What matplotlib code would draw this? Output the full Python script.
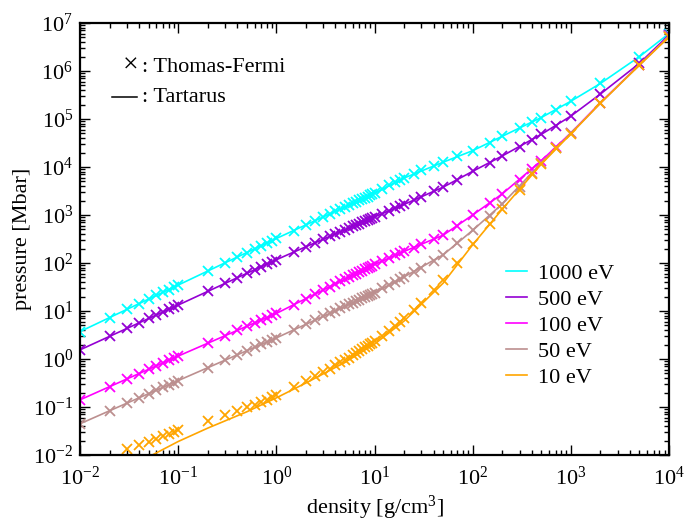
import matplotlib
matplotlib.use('Agg')
import matplotlib.pyplot as plt
from matplotlib.lines import Line2D
from matplotlib.ticker import LogLocator, NullFormatter

plt.rcParams['font.family'] = ['Liberation Serif', 'DejaVu Serif']
plt.rcParams['mathtext.fontset'] = 'custom'
plt.rcParams['mathtext.rm'] = 'Liberation Serif'
plt.rcParams['mathtext.it'] = 'Liberation Serif:italic'

# Thomas-Fermi densities [g/cm^3]
rho_tf = [0.01, 0.02, 0.03, 0.04, 0.05, 0.06, 0.07, 0.08, 0.09, 0.1,
          0.2, 0.3, 0.4, 0.5, 0.6, 0.7, 0.8, 0.9,
          1, 1.5, 2, 2.5, 3, 3.5, 4, 4.5, 5, 5.5, 6, 6.5, 7, 7.5, 8, 8.5, 9, 9.5,
          10, 12, 14, 16, 18, 20, 25, 30, 40, 50, 70,
          100, 150, 200, 300, 400, 500, 700,
          1000, 2000, 5000, 10000]

# Thomas-Fermi pressures [Mbar]
tf_1000 = [3.72, 7.29, 10.8, 14.3, 17.7, 21.1, 24.6, 28.0, 31.3, 34.7,
           68, 101, 133, 165, 197, 229, 261, 292,
           324, 474, 622, 767, 910, 1052, 1193, 1332, 1471, 1610, 1746, 1882, 2019, 2151, 2287, 2420, 2553, 2686,
           2818, 3467, 4169, 4786, 5370, 5888, 7244, 8511, 10720, 12590, 16600,
           21880, 32360, 43650, 64570, 85110, 107200, 154900,
           234400, 549500, 1995000, 6026000]
tf_500 = [1.55, 2.96, 4.33, 5.67, 6.98, 8.28, 9.56, 10.8, 12.1, 13.3,
          25.6, 37.6, 49.3, 60.9, 72.2, 83.5, 94.8, 106,
          117, 168, 218, 266, 312, 358, 403, 448, 492, 536, 579, 622, 664, 706, 747, 790, 831, 871,
          912, 1072, 1230, 1380, 1514, 1660, 2042, 2399, 3090, 3802, 5370,
          8128, 12300, 16980, 26300, 37150, 47860, 72440,
          114800, 331100, 1445000, 5623000]
tf_100 = [0.141, 0.265, 0.383, 0.498, 0.610, 0.720, 0.829, 0.935, 1.04, 1.15,
          2.13, 3.05, 3.94, 4.81, 5.66, 6.49, 7.30, 8.12,
          8.91, 13.5, 18.1, 22.7, 27.3, 32.0, 36.6, 41.3, 46.0, 50.7, 55.4, 60.1, 64.9, 69.6, 74.3, 79.0, 83.8, 88.5,
          93.3, 112, 129, 145, 158, 174, 209, 245, 309, 380, 603,
          1000, 1738, 2754, 5370, 8913, 13490, 26300,
          51290, 218800, 1349000, 5248000]
tf_50 = [0.0447, 0.0834, 0.120, 0.156, 0.190, 0.224, 0.257, 0.291, 0.323, 0.355,
         0.658, 0.944, 1.22, 1.49, 1.75, 2.01, 2.26, 2.51,
         2.75, 4.03, 5.28, 6.52, 7.74, 8.94, 10.1, 11.3, 12.5, 13.7, 14.8, 16.0, 17.2, 18.3, 19.4, 20.6, 21.7, 22.8,
         24.0, 29.5, 35.5, 40.7, 45.7, 51.3, 64.6, 79.4, 110, 148, 257,
         479, 955, 1698, 3890, 7586, 12020, 25120,
         50120, 213800, 1349000, 5248000]
tf_10 = [0.0045, 0.0076, 0.0135, 0.0162, 0.0191, 0.0219, 0.0245, 0.0269, 0.0295, 0.0324,
         0.0513, 0.0676, 0.0813, 0.0977, 0.112, 0.126, 0.141, 0.158,
         0.174, 0.263, 0.355, 0.447, 0.537, 0.631, 0.741, 0.851, 0.955, 1.07, 1.20, 1.32, 1.45, 1.58, 1.74, 1.86, 2.04, 2.19,
         2.34, 3.02, 3.80, 4.79, 6.03, 7.24, 10.7, 14.8, 26.9, 44.7, 100,
         251, 646, 1318, 3311, 7079, 11480, 24550,
         48980, 213800, 1318000, 5129000]

# Tartarus densities and pressures
rho_tt = [0.01, 0.02, 0.05, 0.1, 0.2, 0.5, 1, 2, 5, 10, 20, 50,
          100, 200, 500, 1000, 2000, 5000, 10000]
tt_1000 = [3.72, 7.29, 17.7, 34.7, 68, 165, 324, 622, 1471, 2818, 5888, 12590,
           21880, 43650, 107200, 234400, 549500, 1995000, 6026000]
tt_500 = [1.55, 2.96, 6.98, 13.3, 25.6, 60.9, 117, 218, 492, 912, 1660, 3802,
          8128, 16980, 47860, 114800, 331100, 1445000, 5623000]
tt_100 = [0.141, 0.265, 0.610, 1.15, 2.13, 4.81, 8.91, 18.1, 46.0, 93.3, 174, 380,
          1000, 2754, 13490, 51290, 218800, 1349000, 5248000]
tt_50 = [0.0447, 0.0834, 0.190, 0.355, 0.658, 1.49, 2.75, 5.28, 12.5, 24.0, 51.3, 148,
         479, 1698, 12020, 50120, 213800, 1349000, 5248000]
tt_10 = [0.00178, 0.0038, 0.00912, 0.0191, 0.0363, 0.0794, 0.155, 0.316, 0.851, 2.04, 6.17, 38.0,
         240, 1318, 11480, 48980, 213800, 1318000, 5129000]

labels = ['1000 eV', '500 eV', '100 eV', '50 eV', '10 eV']
colors = ['#00ffff', '#9400d3', '#ff00ff', '#bc8f8f', '#ffa500']

if __name__ == '__main__':
    fig = plt.figure(figsize=(6.86, 5.24), dpi=100)
    ax = fig.add_axes([80/686, 1 - 455/524, 589/686, 432/524])

    handles = []
    for tf, tt, lab, c in zip([tf_1000, tf_500, tf_100, tf_50, tf_10],
                              [tt_1000, tt_500, tt_100, tt_50, tt_10],
                              labels, colors):
        ln, = ax.plot(rho_tt, tt, color=c, lw=1.2, label=lab)
        ax.plot(rho_tf, tf, ls='none', marker='x', ms=7, mew=1.3, color=c)
        handles.append(ln)

    ax.set_xscale('log')
    ax.set_yscale('log')
    ax.set_xlim(1e-2, 1e4)
    ax.set_ylim(1e-2, 1e7)
    ax.xaxis.set_major_locator(LogLocator(base=10, numticks=20))
    ax.yaxis.set_major_locator(LogLocator(base=10, numticks=20))
    ax.xaxis.set_minor_locator(LogLocator(base=10, subs=range(2, 10), numticks=50))
    ax.yaxis.set_minor_locator(LogLocator(base=10, subs=range(2, 10), numticks=50))
    ax.xaxis.set_minor_formatter(NullFormatter())
    ax.yaxis.set_minor_formatter(NullFormatter())
    ax.tick_params(which='both', direction='in', top=True, right=True, labelsize=16)
    ax.tick_params(which='major', length=7, width=1)
    ax.tick_params(which='minor', length=3.5, width=1)
    ax.tick_params(axis='x', which='major', pad=8)
    ax.tick_params(axis='y', which='major', pad=5)
    for s in ax.spines.values():
        s.set_linewidth(1.6)

    ax.set_xlabel('density [g/cm$^3$]', fontsize=16, labelpad=3)
    ax.set_ylabel('pressure [Mbar]', fontsize=16, labelpad=1)

    # key for the two data sources, top left
    px = lambda x: (x - 80) / 589
    py = lambda y: (455 - y) / 432
    ax.text(px(131), py(66), '\u00d7', transform=ax.transAxes, fontsize=20,
            va='center', ha='center')
    ax.add_line(Line2D([px(112), px(137)], [py(97), py(97)], transform=ax.transAxes,
                       color='black', lw=1.1))
    ax.text(px(142), py(67), ': Thomas-Fermi', transform=ax.transAxes,
            fontsize=16, va='center', ha='left')
    ax.text(px(142), py(97), ': Tartarus', transform=ax.transAxes,
            fontsize=16, va='center', ha='left')

    ax.legend(handles=handles, loc='upper left', bbox_to_anchor=(px(506), py(263)),
              frameon=False, fontsize=16, handlelength=0.95, handletextpad=0.5,
              labelspacing=0.25, borderpad=0, borderaxespad=0)

    plt.savefig('out.png', dpi=100)
